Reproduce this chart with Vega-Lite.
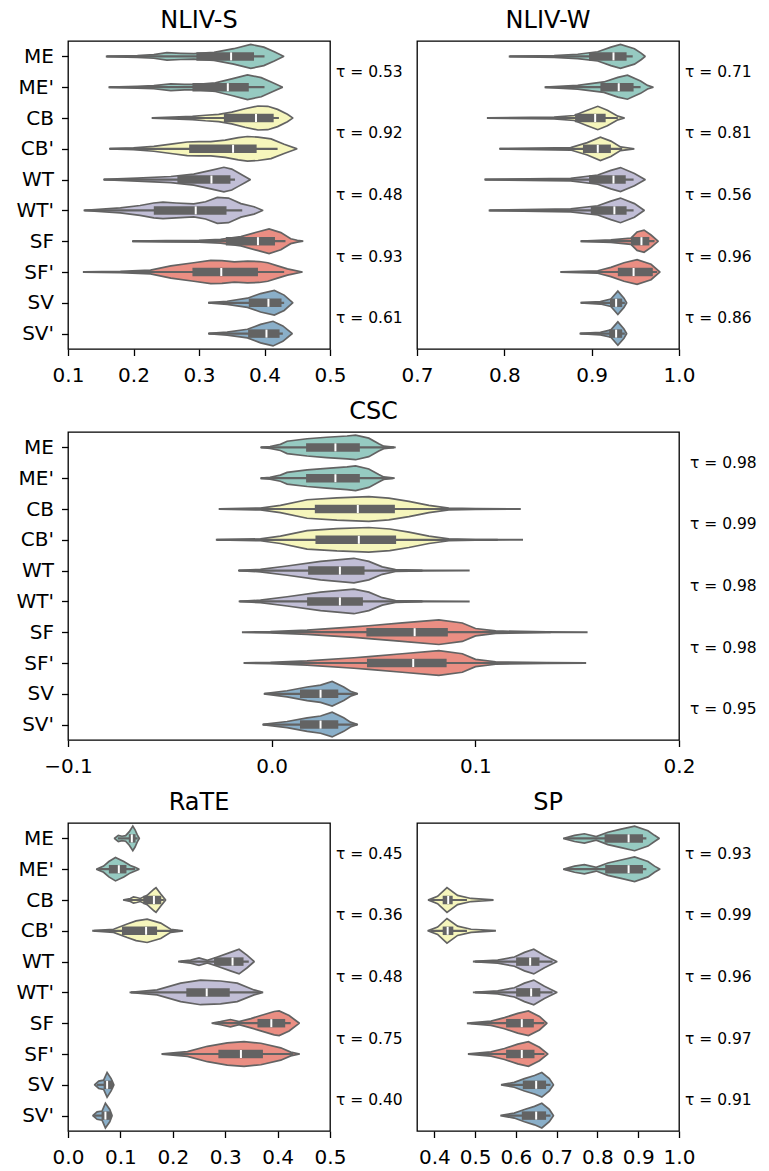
{
"$schema": "https://vega.github.io/schema/vega-lite/v6.json",
"background": "white",
"padding": {"left": 15, "top": 8, "right": 0, "bottom": 2},
"datasets": {
"v": [
{"p":"S","c":0,"x":0.159,"w":0.005},{"p":"S","c":0,"x":0.206,"w":0.03},{"p":"S","c":0,"x":0.231,"w":0.06},{"p":"S","c":0,"x":0.251,"w":0.12},{"p":"S","c":0,"x":0.272,"w":0.10},{"p":"S","c":0,"x":0.292,"w":0.09},{"p":"S","c":0,"x":0.323,"w":0.13},{"p":"S","c":0,"x":0.353,"w":0.25},{"p":"S","c":0,"x":0.379,"w":0.39},{"p":"S","c":0,"x":0.399,"w":0.30},{"p":"S","c":0,"x":0.415,"w":0.15},{"p":"S","c":0,"x":0.429,"w":0.005},
{"p":"S","c":1,"x":0.163,"w":0.005},{"p":"S","c":1,"x":0.206,"w":0.03},{"p":"S","c":1,"x":0.231,"w":0.05},{"p":"S","c":1,"x":0.257,"w":0.11},{"p":"S","c":1,"x":0.278,"w":0.09},{"p":"S","c":1,"x":0.298,"w":0.09},{"p":"S","c":1,"x":0.325,"w":0.14},{"p":"S","c":1,"x":0.350,"w":0.27},{"p":"S","c":1,"x":0.374,"w":0.40},{"p":"S","c":1,"x":0.395,"w":0.31},{"p":"S","c":1,"x":0.412,"w":0.15},{"p":"S","c":1,"x":0.427,"w":0.005},
{"p":"S","c":2,"x":0.229,"w":0.005},{"p":"S","c":2,"x":0.26,"w":0.03},{"p":"S","c":2,"x":0.29,"w":0.05},{"p":"S","c":2,"x":0.31,"w":0.09},{"p":"S","c":2,"x":0.33,"w":0.12},{"p":"S","c":2,"x":0.35,"w":0.19},{"p":"S","c":2,"x":0.37,"w":0.30},{"p":"S","c":2,"x":0.39,"w":0.39},{"p":"S","c":2,"x":0.405,"w":0.38},{"p":"S","c":2,"x":0.42,"w":0.28},{"p":"S","c":2,"x":0.435,"w":0.12},{"p":"S","c":2,"x":0.443,"w":0.005},
{"p":"S","c":3,"x":0.164,"w":0.005},{"p":"S","c":3,"x":0.20,"w":0.03},{"p":"S","c":3,"x":0.231,"w":0.08},{"p":"S","c":3,"x":0.26,"w":0.16},{"p":"S","c":3,"x":0.282,"w":0.22},{"p":"S","c":3,"x":0.30,"w":0.23},{"p":"S","c":3,"x":0.318,"w":0.23},{"p":"S","c":3,"x":0.34,"w":0.28},{"p":"S","c":3,"x":0.36,"w":0.36},{"p":"S","c":3,"x":0.374,"w":0.40},{"p":"S","c":3,"x":0.39,"w":0.38},{"p":"S","c":3,"x":0.41,"w":0.32},{"p":"S","c":3,"x":0.43,"w":0.15},{"p":"S","c":3,"x":0.449,"w":0.005},
{"p":"S","c":4,"x":0.155,"w":0.005},{"p":"S","c":4,"x":0.206,"w":0.05},{"p":"S","c":4,"x":0.257,"w":0.10},{"p":"S","c":4,"x":0.292,"w":0.18},{"p":"S","c":4,"x":0.318,"w":0.30},{"p":"S","c":4,"x":0.338,"w":0.40},{"p":"S","c":4,"x":0.35,"w":0.34},{"p":"S","c":4,"x":0.36,"w":0.22},{"p":"S","c":4,"x":0.37,"w":0.10},{"p":"S","c":4,"x":0.378,"w":0.005},
{"p":"S","c":5,"x":0.125,"w":0.005},{"p":"S","c":5,"x":0.18,"w":0.08},{"p":"S","c":5,"x":0.21,"w":0.16},{"p":"S","c":5,"x":0.231,"w":0.24},{"p":"S","c":5,"x":0.245,"w":0.27},{"p":"S","c":5,"x":0.265,"w":0.24},{"p":"S","c":5,"x":0.292,"w":0.21},{"p":"S","c":5,"x":0.31,"w":0.28},{"p":"S","c":5,"x":0.328,"w":0.42},{"p":"S","c":5,"x":0.345,"w":0.40},{"p":"S","c":5,"x":0.364,"w":0.22},{"p":"S","c":5,"x":0.384,"w":0.12},{"p":"S","c":5,"x":0.397,"w":0.005},
{"p":"S","c":6,"x":0.199,"w":0.005},{"p":"S","c":6,"x":0.25,"w":0.02},{"p":"S","c":6,"x":0.30,"w":0.03},{"p":"S","c":6,"x":0.333,"w":0.06},{"p":"S","c":6,"x":0.364,"w":0.15},{"p":"S","c":6,"x":0.389,"w":0.30},{"p":"S","c":6,"x":0.407,"w":0.40},{"p":"S","c":6,"x":0.425,"w":0.28},{"p":"S","c":6,"x":0.44,"w":0.08},{"p":"S","c":6,"x":0.45,"w":0.03},{"p":"S","c":6,"x":0.458,"w":0.005},
{"p":"S","c":7,"x":0.124,"w":0.005},{"p":"S","c":7,"x":0.18,"w":0.02},{"p":"S","c":7,"x":0.226,"w":0.06},{"p":"S","c":7,"x":0.257,"w":0.20},{"p":"S","c":7,"x":0.292,"w":0.30},{"p":"S","c":7,"x":0.318,"w":0.38},{"p":"S","c":7,"x":0.335,"w":0.37},{"p":"S","c":7,"x":0.354,"w":0.33},{"p":"S","c":7,"x":0.374,"w":0.35},{"p":"S","c":7,"x":0.392,"w":0.34},{"p":"S","c":7,"x":0.405,"w":0.30},{"p":"S","c":7,"x":0.42,"w":0.20},{"p":"S","c":7,"x":0.435,"w":0.10},{"p":"S","c":7,"x":0.457,"w":0.005},
{"p":"S","c":8,"x":0.315,"w":0.005},{"p":"S","c":8,"x":0.343,"w":0.05},{"p":"S","c":8,"x":0.374,"w":0.15},{"p":"S","c":8,"x":0.394,"w":0.30},{"p":"S","c":8,"x":0.415,"w":0.40},{"p":"S","c":8,"x":0.43,"w":0.25},{"p":"S","c":8,"x":0.443,"w":0.005},
{"p":"S","c":9,"x":0.315,"w":0.005},{"p":"S","c":9,"x":0.343,"w":0.05},{"p":"S","c":9,"x":0.374,"w":0.14},{"p":"S","c":9,"x":0.394,"w":0.30},{"p":"S","c":9,"x":0.413,"w":0.40},{"p":"S","c":9,"x":0.428,"w":0.25},{"p":"S","c":9,"x":0.442,"w":0.005},

{"p":"W","c":0,"x":0.806,"w":0.005},{"p":"W","c":0,"x":0.857,"w":0.03},{"p":"W","c":0,"x":0.884,"w":0.07},{"p":"W","c":0,"x":0.907,"w":0.15},{"p":"W","c":0,"x":0.922,"w":0.30},{"p":"W","c":0,"x":0.933,"w":0.39},{"p":"W","c":0,"x":0.949,"w":0.25},{"p":"W","c":0,"x":0.957,"w":0.10},{"p":"W","c":0,"x":0.961,"w":0.005},
{"p":"W","c":1,"x":0.847,"w":0.005},{"p":"W","c":1,"x":0.884,"w":0.06},{"p":"W","c":1,"x":0.914,"w":0.17},{"p":"W","c":1,"x":0.930,"w":0.32},{"p":"W","c":1,"x":0.941,"w":0.39},{"p":"W","c":1,"x":0.956,"w":0.20},{"p":"W","c":1,"x":0.964,"w":0.06},{"p":"W","c":1,"x":0.970,"w":0.005},
{"p":"W","c":2,"x":0.781,"w":0.005},{"p":"W","c":2,"x":0.857,"w":0.03},{"p":"W","c":2,"x":0.880,"w":0.08},{"p":"W","c":2,"x":0.895,"w":0.25},{"p":"W","c":2,"x":0.907,"w":0.38},{"p":"W","c":2,"x":0.918,"w":0.25},{"p":"W","c":2,"x":0.930,"w":0.06},{"p":"W","c":2,"x":0.937,"w":0.005},
{"p":"W","c":3,"x":0.795,"w":0.005},{"p":"W","c":3,"x":0.876,"w":0.04},{"p":"W","c":3,"x":0.895,"w":0.20},{"p":"W","c":3,"x":0.910,"w":0.38},{"p":"W","c":3,"x":0.922,"w":0.25},{"p":"W","c":3,"x":0.933,"w":0.06},{"p":"W","c":3,"x":0.948,"w":0.005},
{"p":"W","c":4,"x":0.778,"w":0.005},{"p":"W","c":4,"x":0.876,"w":0.04},{"p":"W","c":4,"x":0.907,"w":0.15},{"p":"W","c":4,"x":0.922,"w":0.30},{"p":"W","c":4,"x":0.933,"w":0.39},{"p":"W","c":4,"x":0.949,"w":0.20},{"p":"W","c":4,"x":0.961,"w":0.005},
{"p":"W","c":5,"x":0.783,"w":0.005},{"p":"W","c":5,"x":0.876,"w":0.05},{"p":"W","c":5,"x":0.907,"w":0.15},{"p":"W","c":5,"x":0.922,"w":0.30},{"p":"W","c":5,"x":0.933,"w":0.40},{"p":"W","c":5,"x":0.949,"w":0.22},{"p":"W","c":5,"x":0.960,"w":0.005},
{"p":"W","c":6,"x":0.888,"w":0.005},{"p":"W","c":6,"x":0.922,"w":0.04},{"p":"W","c":6,"x":0.945,"w":0.10},{"p":"W","c":6,"x":0.952,"w":0.30},{"p":"W","c":6,"x":0.960,"w":0.36},{"p":"W","c":6,"x":0.968,"w":0.20},{"p":"W","c":6,"x":0.976,"w":0.005},
{"p":"W","c":7,"x":0.865,"w":0.005},{"p":"W","c":7,"x":0.907,"w":0.04},{"p":"W","c":7,"x":0.922,"w":0.15},{"p":"W","c":7,"x":0.937,"w":0.30},{"p":"W","c":7,"x":0.952,"w":0.40},{"p":"W","c":7,"x":0.968,"w":0.25},{"p":"W","c":7,"x":0.978,"w":0.005},
{"p":"W","c":8,"x":0.888,"w":0.005},{"p":"W","c":8,"x":0.910,"w":0.04},{"p":"W","c":8,"x":0.922,"w":0.12},{"p":"W","c":8,"x":0.930,"w":0.38},{"p":"W","c":8,"x":0.937,"w":0.15},{"p":"W","c":8,"x":0.940,"w":0.005},
{"p":"W","c":9,"x":0.887,"w":0.005},{"p":"W","c":9,"x":0.910,"w":0.04},{"p":"W","c":9,"x":0.922,"w":0.12},{"p":"W","c":9,"x":0.930,"w":0.38},{"p":"W","c":9,"x":0.937,"w":0.15},{"p":"W","c":9,"x":0.940,"w":0.005},

{"p":"C","c":0,"x":-0.0052,"w":0.005},{"p":"C","c":0,"x":-0.0008,"w":0.03},{"p":"C","c":0,"x":0.0043,"w":0.10},{"p":"C","c":0,"x":0.0076,"w":0.20},{"p":"C","c":0,"x":0.0174,"w":0.28},{"p":"C","c":0,"x":0.027,"w":0.33},{"p":"C","c":0,"x":0.037,"w":0.37},{"p":"C","c":0,"x":0.0412,"w":0.40},{"p":"C","c":0,"x":0.0477,"w":0.30},{"p":"C","c":0,"x":0.0526,"w":0.12},{"p":"C","c":0,"x":0.055,"w":0.04},{"p":"C","c":0,"x":0.0605,"w":0.005},
{"p":"C","c":1,"x":-0.0052,"w":0.005},{"p":"C","c":1,"x":-0.0008,"w":0.03},{"p":"C","c":1,"x":0.0043,"w":0.10},{"p":"C","c":1,"x":0.0076,"w":0.19},{"p":"C","c":1,"x":0.0174,"w":0.27},{"p":"C","c":1,"x":0.027,"w":0.32},{"p":"C","c":1,"x":0.037,"w":0.37},{"p":"C","c":1,"x":0.0412,"w":0.40},{"p":"C","c":1,"x":0.0477,"w":0.30},{"p":"C","c":1,"x":0.0526,"w":0.12},{"p":"C","c":1,"x":0.055,"w":0.04},{"p":"C","c":1,"x":0.060,"w":0.005},
{"p":"C","c":2,"x":-0.0256,"w":0.005},{"p":"C","c":2,"x":-0.0055,"w":0.03},{"p":"C","c":2,"x":0.0043,"w":0.12},{"p":"C","c":2,"x":0.0174,"w":0.30},{"p":"C","c":2,"x":0.032,"w":0.36},{"p":"C","c":2,"x":0.0477,"w":0.40},{"p":"C","c":2,"x":0.0575,"w":0.35},{"p":"C","c":2,"x":0.0674,"w":0.25},{"p":"C","c":2,"x":0.0772,"w":0.12},{"p":"C","c":2,"x":0.087,"w":0.03},{"p":"C","c":2,"x":0.10,"w":0.01},{"p":"C","c":2,"x":0.1219,"w":0.005},
{"p":"C","c":3,"x":-0.027,"w":0.005},{"p":"C","c":3,"x":-0.0055,"w":0.03},{"p":"C","c":3,"x":0.0043,"w":0.12},{"p":"C","c":3,"x":0.0174,"w":0.30},{"p":"C","c":3,"x":0.032,"w":0.36},{"p":"C","c":3,"x":0.0477,"w":0.40},{"p":"C","c":3,"x":0.058,"w":0.35},{"p":"C","c":3,"x":0.0674,"w":0.25},{"p":"C","c":3,"x":0.0772,"w":0.12},{"p":"C","c":3,"x":0.087,"w":0.03},{"p":"C","c":3,"x":0.10,"w":0.01},{"p":"C","c":3,"x":0.123,"w":0.005},
{"p":"C","c":4,"x":-0.0161,"w":0.005},{"p":"C","c":4,"x":-0.0055,"w":0.04},{"p":"C","c":4,"x":0.0076,"w":0.15},{"p":"C","c":4,"x":0.024,"w":0.30},{"p":"C","c":4,"x":0.0404,"w":0.40},{"p":"C","c":4,"x":0.0477,"w":0.30},{"p":"C","c":4,"x":0.0543,"w":0.12},{"p":"C","c":4,"x":0.0608,"w":0.03},{"p":"C","c":4,"x":0.075,"w":0.01},{"p":"C","c":4,"x":0.0968,"w":0.005},
{"p":"C","c":5,"x":-0.0158,"w":0.005},{"p":"C","c":5,"x":-0.0055,"w":0.04},{"p":"C","c":5,"x":0.0076,"w":0.15},{"p":"C","c":5,"x":0.024,"w":0.30},{"p":"C","c":5,"x":0.0404,"w":0.40},{"p":"C","c":5,"x":0.0477,"w":0.30},{"p":"C","c":5,"x":0.0543,"w":0.12},{"p":"C","c":5,"x":0.0608,"w":0.03},{"p":"C","c":5,"x":0.075,"w":0.01},{"p":"C","c":5,"x":0.0968,"w":0.005},
{"p":"C","c":6,"x":-0.0142,"w":0.005},{"p":"C","c":6,"x":-0.0006,"w":0.02},{"p":"C","c":6,"x":0.0174,"w":0.07},{"p":"C","c":6,"x":0.0404,"w":0.17},{"p":"C","c":6,"x":0.0477,"w":0.21},{"p":"C","c":6,"x":0.0641,"w":0.30},{"p":"C","c":6,"x":0.0821,"w":0.40},{"p":"C","c":6,"x":0.0936,"w":0.30},{"p":"C","c":6,"x":0.1001,"w":0.12},{"p":"C","c":6,"x":0.110,"w":0.04},{"p":"C","c":6,"x":0.135,"w":0.01},{"p":"C","c":6,"x":0.1547,"w":0.005},
{"p":"C","c":7,"x":-0.0134,"w":0.005},{"p":"C","c":7,"x":-0.0006,"w":0.02},{"p":"C","c":7,"x":0.0174,"w":0.07},{"p":"C","c":7,"x":0.0404,"w":0.17},{"p":"C","c":7,"x":0.0477,"w":0.21},{"p":"C","c":7,"x":0.0641,"w":0.30},{"p":"C","c":7,"x":0.0821,"w":0.40},{"p":"C","c":7,"x":0.0936,"w":0.30},{"p":"C","c":7,"x":0.1001,"w":0.12},{"p":"C","c":7,"x":0.110,"w":0.04},{"p":"C","c":7,"x":0.135,"w":0.01},{"p":"C","c":7,"x":0.154,"w":0.005},
{"p":"C","c":8,"x":-0.0035,"w":0.005},{"p":"C","c":8,"x":0.0076,"w":0.10},{"p":"C","c":8,"x":0.0174,"w":0.22},{"p":"C","c":8,"x":0.024,"w":0.28},{"p":"C","c":8,"x":0.0297,"w":0.40},{"p":"C","c":8,"x":0.0354,"w":0.22},{"p":"C","c":8,"x":0.0387,"w":0.08},{"p":"C","c":8,"x":0.042,"w":0.005},
{"p":"C","c":9,"x":-0.0042,"w":0.005},{"p":"C","c":9,"x":0.0076,"w":0.10},{"p":"C","c":9,"x":0.0174,"w":0.22},{"p":"C","c":9,"x":0.024,"w":0.28},{"p":"C","c":9,"x":0.0297,"w":0.40},{"p":"C","c":9,"x":0.0354,"w":0.22},{"p":"C","c":9,"x":0.0387,"w":0.08},{"p":"C","c":9,"x":0.042,"w":0.005},

{"p":"R","c":0,"x":0.089,"w":0.005},{"p":"R","c":0,"x":0.096,"w":0.10},{"p":"R","c":0,"x":0.103,"w":0.07},{"p":"R","c":0,"x":0.110,"w":0.09},{"p":"R","c":0,"x":0.117,"w":0.22},{"p":"R","c":0,"x":0.1237,"w":0.40},{"p":"R","c":0,"x":0.128,"w":0.28},{"p":"R","c":0,"x":0.132,"w":0.12},{"p":"R","c":0,"x":0.136,"w":0.005},
{"p":"R","c":1,"x":0.055,"w":0.005},{"p":"R","c":1,"x":0.068,"w":0.10},{"p":"R","c":1,"x":0.078,"w":0.25},{"p":"R","c":1,"x":0.0906,"w":0.38},{"p":"R","c":1,"x":0.1065,"w":0.25},{"p":"R","c":1,"x":0.119,"w":0.12},{"p":"R","c":1,"x":0.128,"w":0.06},{"p":"R","c":1,"x":0.135,"w":0.005},
{"p":"R","c":2,"x":0.1065,"w":0.005},{"p":"R","c":2,"x":0.119,"w":0.05},{"p":"R","c":2,"x":0.125,"w":0.10},{"p":"R","c":2,"x":0.131,"w":0.08},{"p":"R","c":2,"x":0.138,"w":0.05},{"p":"R","c":2,"x":0.151,"w":0.15},{"p":"R","c":2,"x":0.164,"w":0.35},{"p":"R","c":2,"x":0.168,"w":0.40},{"p":"R","c":2,"x":0.1767,"w":0.20},{"p":"R","c":2,"x":0.186,"w":0.005},
{"p":"R","c":3,"x":0.0478,"w":0.005},{"p":"R","c":3,"x":0.087,"w":0.05},{"p":"R","c":3,"x":0.113,"w":0.22},{"p":"R","c":3,"x":0.130,"w":0.32},{"p":"R","c":3,"x":0.151,"w":0.38},{"p":"R","c":3,"x":0.177,"w":0.25},{"p":"R","c":3,"x":0.196,"w":0.05},{"p":"R","c":3,"x":0.218,"w":0.005},
{"p":"R","c":4,"x":0.2117,"w":0.005},{"p":"R","c":4,"x":0.234,"w":0.05},{"p":"R","c":4,"x":0.25,"w":0.12},{"p":"R","c":4,"x":0.266,"w":0.04},{"p":"R","c":4,"x":0.285,"w":0.15},{"p":"R","c":4,"x":0.31,"w":0.30},{"p":"R","c":4,"x":0.3265,"w":0.40},{"p":"R","c":4,"x":0.342,"w":0.20},{"p":"R","c":4,"x":0.355,"w":0.005},
{"p":"R","c":5,"x":0.119,"w":0.005},{"p":"R","c":5,"x":0.170,"w":0.08},{"p":"R","c":5,"x":0.215,"w":0.30},{"p":"R","c":5,"x":0.253,"w":0.40},{"p":"R","c":5,"x":0.291,"w":0.37},{"p":"R","c":5,"x":0.323,"w":0.30},{"p":"R","c":5,"x":0.355,"w":0.08},{"p":"R","c":5,"x":0.371,"w":0.005},
{"p":"R","c":6,"x":0.2755,"w":0.005},{"p":"R","c":6,"x":0.291,"w":0.05},{"p":"R","c":6,"x":0.31,"w":0.12},{"p":"R","c":6,"x":0.3265,"w":0.05},{"p":"R","c":6,"x":0.349,"w":0.15},{"p":"R","c":6,"x":0.368,"w":0.25},{"p":"R","c":6,"x":0.3935,"w":0.38},{"p":"R","c":6,"x":0.403,"w":0.40},{"p":"R","c":6,"x":0.422,"w":0.25},{"p":"R","c":6,"x":0.441,"w":0.005},
{"p":"R","c":7,"x":0.18,"w":0.005},{"p":"R","c":7,"x":0.228,"w":0.08},{"p":"R","c":7,"x":0.266,"w":0.25},{"p":"R","c":7,"x":0.304,"w":0.36},{"p":"R","c":7,"x":0.336,"w":0.40},{"p":"R","c":7,"x":0.368,"w":0.35},{"p":"R","c":7,"x":0.406,"w":0.20},{"p":"R","c":7,"x":0.425,"w":0.06},{"p":"R","c":7,"x":0.441,"w":0.005},
{"p":"R","c":8,"x":0.051,"w":0.005},{"p":"R","c":8,"x":0.0587,"w":0.12},{"p":"R","c":8,"x":0.068,"w":0.15},{"p":"R","c":8,"x":0.0746,"w":0.40},{"p":"R","c":8,"x":0.0823,"w":0.20},{"p":"R","c":8,"x":0.0874,"w":0.005},
{"p":"R","c":9,"x":0.0478,"w":0.005},{"p":"R","c":9,"x":0.0555,"w":0.12},{"p":"R","c":9,"x":0.065,"w":0.15},{"p":"R","c":9,"x":0.0714,"w":0.40},{"p":"R","c":9,"x":0.0797,"w":0.20},{"p":"R","c":9,"x":0.084,"w":0.005},

{"p":"P","c":0,"x":0.7176,"w":0.005},{"p":"P","c":0,"x":0.7438,"w":0.10},{"p":"P","c":0,"x":0.768,"w":0.15},{"p":"P","c":0,"x":0.797,"w":0.06},{"p":"P","c":0,"x":0.8256,"w":0.20},{"p":"P","c":0,"x":0.858,"w":0.30},{"p":"P","c":0,"x":0.8911,"w":0.40},{"p":"P","c":0,"x":0.924,"w":0.25},{"p":"P","c":0,"x":0.94,"w":0.10},{"p":"P","c":0,"x":0.951,"w":0.005},
{"p":"P","c":1,"x":0.7176,"w":0.005},{"p":"P","c":1,"x":0.7438,"w":0.10},{"p":"P","c":1,"x":0.768,"w":0.15},{"p":"P","c":1,"x":0.797,"w":0.06},{"p":"P","c":1,"x":0.8256,"w":0.20},{"p":"P","c":1,"x":0.858,"w":0.30},{"p":"P","c":1,"x":0.8911,"w":0.40},{"p":"P","c":1,"x":0.924,"w":0.25},{"p":"P","c":1,"x":0.94,"w":0.10},{"p":"P","c":1,"x":0.9525,"w":0.005},
{"p":"P","c":2,"x":0.386,"w":0.005},{"p":"P","c":2,"x":0.408,"w":0.12},{"p":"P","c":2,"x":0.431,"w":0.40},{"p":"P","c":2,"x":0.457,"w":0.15},{"p":"P","c":2,"x":0.49,"w":0.05},{"p":"P","c":2,"x":0.5432,"w":0.005},
{"p":"P","c":3,"x":0.385,"w":0.005},{"p":"P","c":3,"x":0.408,"w":0.12},{"p":"P","c":3,"x":0.431,"w":0.40},{"p":"P","c":3,"x":0.457,"w":0.15},{"p":"P","c":3,"x":0.49,"w":0.05},{"p":"P","c":3,"x":0.549,"w":0.005},
{"p":"P","c":4,"x":0.4966,"w":0.005},{"p":"P","c":4,"x":0.5555,"w":0.05},{"p":"P","c":4,"x":0.5964,"w":0.15},{"p":"P","c":4,"x":0.621,"w":0.30},{"p":"P","c":4,"x":0.6439,"w":0.40},{"p":"P","c":4,"x":0.670,"w":0.20},{"p":"P","c":4,"x":0.700,"w":0.005},
{"p":"P","c":5,"x":0.4966,"w":0.005},{"p":"P","c":5,"x":0.5555,"w":0.05},{"p":"P","c":5,"x":0.5964,"w":0.15},{"p":"P","c":5,"x":0.621,"w":0.30},{"p":"P","c":5,"x":0.6439,"w":0.40},{"p":"P","c":5,"x":0.670,"w":0.20},{"p":"P","c":5,"x":0.700,"w":0.005},
{"p":"P","c":6,"x":0.4819,"w":0.005},{"p":"P","c":6,"x":0.539,"w":0.07},{"p":"P","c":6,"x":0.572,"w":0.18},{"p":"P","c":6,"x":0.6046,"w":0.32},{"p":"P","c":6,"x":0.6308,"w":0.40},{"p":"P","c":6,"x":0.6578,"w":0.22},{"p":"P","c":6,"x":0.6758,"w":0.005},
{"p":"P","c":7,"x":0.4843,"w":0.005},{"p":"P","c":7,"x":0.539,"w":0.07},{"p":"P","c":7,"x":0.572,"w":0.18},{"p":"P","c":7,"x":0.6046,"w":0.32},{"p":"P","c":7,"x":0.6308,"w":0.40},{"p":"P","c":7,"x":0.6578,"w":0.22},{"p":"P","c":7,"x":0.678,"w":0.005},
{"p":"P","c":8,"x":0.5653,"w":0.005},{"p":"P","c":8,"x":0.596,"w":0.08},{"p":"P","c":8,"x":0.621,"w":0.20},{"p":"P","c":8,"x":0.6456,"w":0.30},{"p":"P","c":8,"x":0.6636,"w":0.40},{"p":"P","c":8,"x":0.682,"w":0.20},{"p":"P","c":8,"x":0.692,"w":0.005},
{"p":"P","c":9,"x":0.5637,"w":0.005},{"p":"P","c":9,"x":0.596,"w":0.08},{"p":"P","c":9,"x":0.621,"w":0.20},{"p":"P","c":9,"x":0.6456,"w":0.30},{"p":"P","c":9,"x":0.6636,"w":0.40},{"p":"P","c":9,"x":0.682,"w":0.20},{"p":"P","c":9,"x":0.692,"w":0.005}
],
"b": [
{"p":"S","c":0,"lo":0.159,"q1":0.296,"med":0.349,"q3":0.384,"hi":0.400},
{"p":"S","c":1,"lo":0.163,"q1":0.290,"med":0.344,"q3":0.376,"hi":0.400},
{"p":"S","c":2,"lo":0.229,"q1":0.338,"med":0.387,"q3":0.414,"hi":0.422},
{"p":"S","c":3,"lo":0.164,"q1":0.285,"med":0.352,"q3":0.388,"hi":0.420},
{"p":"S","c":4,"lo":0.155,"q1":0.267,"med":0.319,"q3":0.348,"hi":0.355},
{"p":"S","c":5,"lo":0.125,"q1":0.231,"med":0.295,"q3":0.342,"hi":0.366},
{"p":"S","c":6,"lo":0.199,"q1":0.341,"med":0.390,"q3":0.416,"hi":0.432},
{"p":"S","c":7,"lo":0.124,"q1":0.290,"med":0.334,"q3":0.390,"hi":0.430},
{"p":"S","c":8,"lo":0.315,"q1":0.376,"med":0.406,"q3":0.426,"hi":0.430},
{"p":"S","c":9,"lo":0.315,"q1":0.375,"med":0.403,"q3":0.423,"hi":0.428},
{"p":"W","c":0,"lo":0.806,"q1":0.897,"med":0.925,"q3":0.940,"hi":0.947},
{"p":"W","c":1,"lo":0.847,"q1":0.910,"med":0.931,"q3":0.948,"hi":0.956},
{"p":"W","c":2,"lo":0.781,"q1":0.881,"med":0.904,"q3":0.916,"hi":0.930},
{"p":"W","c":3,"lo":0.795,"q1":0.890,"med":0.907,"q3":0.922,"hi":0.935},
{"p":"W","c":4,"lo":0.778,"q1":0.897,"med":0.925,"q3":0.939,"hi":0.948},
{"p":"W","c":5,"lo":0.783,"q1":0.899,"med":0.926,"q3":0.940,"hi":0.948},
{"p":"W","c":6,"lo":0.888,"q1":0.945,"med":0.957,"q3":0.966,"hi":0.972},
{"p":"W","c":7,"lo":0.865,"q1":0.930,"med":0.948,"q3":0.970,"hi":0.975},
{"p":"W","c":8,"lo":0.888,"q1":0.921,"med":0.928,"q3":0.935,"hi":0.938},
{"p":"W","c":9,"lo":0.887,"q1":0.920,"med":0.928,"q3":0.935,"hi":0.938},
{"p":"C","c":0,"lo":-0.0052,"q1":0.0169,"med":0.0313,"q3":0.0433,"hi":0.0600},
{"p":"C","c":1,"lo":-0.0052,"q1":0.0169,"med":0.0313,"q3":0.0433,"hi":0.0595},
{"p":"C","c":2,"lo":-0.0256,"q1":0.0212,"med":0.0423,"q3":0.0605,"hi":0.110},
{"p":"C","c":3,"lo":-0.027,"q1":0.0215,"med":0.0428,"q3":0.0611,"hi":0.111},
{"p":"C","c":4,"lo":-0.0161,"q1":0.0179,"med":0.0335,"q3":0.0456,"hi":0.074},
{"p":"C","c":5,"lo":-0.0158,"q1":0.0174,"med":0.0335,"q3":0.0448,"hi":0.074},
{"p":"C","c":6,"lo":0.0,"q1":0.0465,"med":0.0702,"q3":0.0865,"hi":0.137},
{"p":"C","c":7,"lo":0.0,"q1":0.0468,"med":0.0695,"q3":0.0859,"hi":0.136},
{"p":"C","c":8,"lo":-0.0035,"q1":0.0139,"med":0.024,"q3":0.0327,"hi":0.042},
{"p":"C","c":9,"lo":-0.0042,"q1":0.0139,"med":0.024,"q3":0.0327,"hi":0.042},
{"p":"R","c":0,"lo":0.095,"q1":0.116,"med":0.1218,"q3":0.129,"hi":0.133},
{"p":"R","c":1,"lo":0.058,"q1":0.078,"med":0.097,"q3":0.1116,"hi":0.128},
{"p":"R","c":2,"lo":0.110,"q1":0.1435,"med":0.164,"q3":0.178,"hi":0.183},
{"p":"R","c":3,"lo":0.050,"q1":0.103,"med":0.149,"q3":0.170,"hi":0.210},
{"p":"R","c":4,"lo":0.215,"q1":0.2787,"med":0.314,"q3":0.335,"hi":0.345},
{"p":"R","c":5,"lo":0.120,"q1":0.2258,"med":0.2647,"q3":0.3087,"hi":0.368},
{"p":"R","c":6,"lo":0.280,"q1":0.3616,"med":0.388,"q3":0.4145,"hi":0.425},
{"p":"R","c":7,"lo":0.180,"q1":0.287,"med":0.330,"q3":0.372,"hi":0.430},
{"p":"R","c":8,"lo":0.055,"q1":0.068,"med":0.0746,"q3":0.086,"hi":0.086},
{"p":"R","c":9,"lo":0.050,"q1":0.064,"med":0.0714,"q3":0.082,"hi":0.082},
{"p":"P","c":0,"lo":0.720,"q1":0.8175,"med":0.8764,"q3":0.9116,"hi":0.920},
{"p":"P","c":1,"lo":0.720,"q1":0.819,"med":0.8764,"q3":0.9116,"hi":0.920},
{"p":"P","c":2,"lo":0.390,"q1":0.4205,"med":0.434,"q3":0.445,"hi":0.480},
{"p":"P","c":3,"lo":0.390,"q1":0.4205,"med":0.4327,"q3":0.4466,"hi":0.480},
{"p":"P","c":4,"lo":0.500,"q1":0.6005,"med":0.635,"q3":0.6578,"hi":0.690},
{"p":"P","c":5,"lo":0.500,"q1":0.6005,"med":0.6374,"q3":0.660,"hi":0.690},
{"p":"P","c":6,"lo":0.490,"q1":0.576,"med":0.6145,"q3":0.644,"hi":0.670},
{"p":"P","c":7,"lo":0.490,"q1":0.576,"med":0.6145,"q3":0.6456,"hi":0.670},
{"p":"P","c":8,"lo":0.570,"q1":0.617,"med":0.6497,"q3":0.674,"hi":0.685},
{"p":"P","c":9,"lo":0.570,"q1":0.6145,"med":0.6497,"q3":0.674,"hi":0.685}
],
"t": [
{"p":"S","c":0.5,"t":"τ = 0.53"},{"p":"S","c":2.5,"t":"τ = 0.92"},{"p":"S","c":4.5,"t":"τ = 0.48"},{"p":"S","c":6.5,"t":"τ = 0.93"},{"p":"S","c":8.5,"t":"τ = 0.61"},
{"p":"W","c":0.5,"t":"τ = 0.71"},{"p":"W","c":2.5,"t":"τ = 0.81"},{"p":"W","c":4.5,"t":"τ = 0.56"},{"p":"W","c":6.5,"t":"τ = 0.96"},{"p":"W","c":8.5,"t":"τ = 0.86"},
{"p":"C","c":0.5,"t":"τ = 0.98"},{"p":"C","c":2.5,"t":"τ = 0.99"},{"p":"C","c":4.5,"t":"τ = 0.98"},{"p":"C","c":6.5,"t":"τ = 0.98"},{"p":"C","c":8.5,"t":"τ = 0.95"},
{"p":"R","c":0.5,"t":"τ = 0.45"},{"p":"R","c":2.5,"t":"τ = 0.36"},{"p":"R","c":4.5,"t":"τ = 0.48"},{"p":"R","c":6.5,"t":"τ = 0.75"},{"p":"R","c":8.5,"t":"τ = 0.40"},
{"p":"P","c":0.5,"t":"τ = 0.93"},{"p":"P","c":2.5,"t":"τ = 0.99"},{"p":"P","c":4.5,"t":"τ = 0.96"},{"p":"P","c":6.5,"t":"τ = 0.97"},{"p":"P","c":8.5,"t":"τ = 0.91"}
]
},
"bounds": "full",
"spacing": 12,
"vconcat": [
{"bounds": "flush", "spacing": 87, "hconcat": [
{"title": "NLIV-S", "width": 262, "height": 308, "layer": [
 {"data": {"name": "v"}, "transform": [{"filter": "datum.p == 'S'"}, {"calculate": "datum.c - datum.w", "as": "ya"}, {"calculate": "datum.c + datum.w", "as": "yb"}],
  "mark": {"type": "area", "orient": "vertical", "stroke": "#636363", "strokeWidth": 1.7, "fillOpacity": 1},
  "encoding": {
   "x": {"field": "x", "type": "quantitative", "title": null, "scale": {"domain": [0.1, 0.5], "nice": false, "zero": false}, "axis": {"values": [0.1, 0.2, 0.3, 0.4, 0.5], "format": ".1f"}},
   "y": {"field": "ya", "type": "quantitative", "title": null, "stack": null, "scale": {"domain": [-0.5, 9.5], "reverse": true, "nice": false, "zero": false}, "axis": {"values": [0,1,2,3,4,5,6,7,8,9], "labelExpr": "[\"ME\",\"ME'\",\"CB\",\"CB'\",\"WT\",\"WT'\",\"SF\",\"SF'\",\"SV\",\"SV'\"][datum.value]"}},
   "y2": {"field": "yb"},
   "color": {"field": "c", "type": "nominal", "legend": null, "scale": {"domain": [0,1,2,3,4,5,6,7,8,9], "range": ["#96cac1","#96cac1","#f6f6bc","#f6f6bc","#c1bed6","#c1bed6","#ea8e83","#ea8e83","#8aafc9","#8aafc9"]}}
  }},
 {"data": {"name": "b"}, "transform": [{"filter": "datum.p == 'S'"}], "mark": {"type": "rule", "color": "#636363", "strokeWidth": 2.2},
  "encoding": {"x": {"field": "lo", "type": "quantitative", "title": null, "scale": {"domain": [0.1, 0.5], "nice": false, "zero": false}, "axis": {"values": [0.1, 0.2, 0.3, 0.4, 0.5], "format": ".1f"}}, "x2": {"field": "hi"}, "y": {"field": "c", "type": "quantitative", "title": null, "scale": {"domain": [-0.5, 9.5], "reverse": true, "nice": false, "zero": false}, "axis": {"values": [0,1,2,3,4,5,6,7,8,9], "labelExpr": "[\"ME\",\"ME'\",\"CB\",\"CB'\",\"WT\",\"WT'\",\"SF\",\"SF'\",\"SV\",\"SV'\"][datum.value]"}}}},
 {"data": {"name": "b"}, "transform": [{"filter": "datum.p == 'S'"}], "mark": {"type": "rule", "color": "#636363", "strokeWidth": 8.5, "strokeCap": "butt"},
  "encoding": {"x": {"field": "q1", "type": "quantitative", "title": null, "scale": {"domain": [0.1, 0.5], "nice": false, "zero": false}, "axis": {"values": [0.1, 0.2, 0.3, 0.4, 0.5], "format": ".1f"}}, "x2": {"field": "q3"}, "y": {"field": "c", "type": "quantitative", "title": null, "scale": {"domain": [-0.5, 9.5], "reverse": true, "nice": false, "zero": false}, "axis": {"values": [0,1,2,3,4,5,6,7,8,9], "labelExpr": "[\"ME\",\"ME'\",\"CB\",\"CB'\",\"WT\",\"WT'\",\"SF\",\"SF'\",\"SV\",\"SV'\"][datum.value]"}}}},
 {"data": {"name": "b"}, "transform": [{"filter": "datum.p == 'S'"}], "mark": {"type": "point", "shape": "M0,-1L0,1", "filled": false, "stroke": "white", "strokeWidth": 2, "size": 64, "opacity": 1},
  "encoding": {"x": {"field": "med", "type": "quantitative", "title": null, "scale": {"domain": [0.1, 0.5], "nice": false, "zero": false}, "axis": {"values": [0.1, 0.2, 0.3, 0.4, 0.5], "format": ".1f"}}, "y": {"field": "c", "type": "quantitative", "title": null, "scale": {"domain": [-0.5, 9.5], "reverse": true, "nice": false, "zero": false}, "axis": {"values": [0,1,2,3,4,5,6,7,8,9], "labelExpr": "[\"ME\",\"ME'\",\"CB\",\"CB'\",\"WT\",\"WT'\",\"SF\",\"SF'\",\"SV\",\"SV'\"][datum.value]"}}}},
 {"data": {"name": "t"}, "transform": [{"filter": "datum.p == 'S'"}], "mark": {"type": "text", "align": "left", "baseline": "middle", "dx": 6, "fontSize": 15.5, "color": "black"},
  "encoding": {"x": {"datum": 0.5, "type": "quantitative", "axis": {"values": [0.1, 0.2, 0.3, 0.4, 0.5], "format": ".1f"}}, "y": {"field": "c", "type": "quantitative", "title": null, "scale": {"domain": [-0.5, 9.5], "reverse": true, "nice": false, "zero": false}, "axis": {"values": [0,1,2,3,4,5,6,7,8,9], "labelExpr": "[\"ME\",\"ME'\",\"CB\",\"CB'\",\"WT\",\"WT'\",\"SF\",\"SF'\",\"SV\",\"SV'\"][datum.value]"}}, "text": {"field": "t"}}}
]},
{"title": "NLIV-W", "width": 262, "height": 308, "layer": [
 {"data": {"name": "v"}, "transform": [{"filter": "datum.p == 'W'"}, {"calculate": "datum.c - datum.w", "as": "ya"}, {"calculate": "datum.c + datum.w", "as": "yb"}],
  "mark": {"type": "area", "orient": "vertical", "stroke": "#636363", "strokeWidth": 1.7, "fillOpacity": 1},
  "encoding": {
   "x": {"field": "x", "type": "quantitative", "title": null, "scale": {"domain": [0.7, 1.0], "nice": false, "zero": false}, "axis": {"values": [0.7, 0.8, 0.9, 1.0], "format": ".1f"}},
   "y": {"field": "ya", "type": "quantitative", "title": null, "stack": null, "scale": {"domain": [-0.5, 9.5], "reverse": true, "nice": false, "zero": false}, "axis": null},
   "y2": {"field": "yb"},
   "color": {"field": "c", "type": "nominal", "legend": null, "scale": {"domain": [0,1,2,3,4,5,6,7,8,9], "range": ["#96cac1","#96cac1","#f6f6bc","#f6f6bc","#c1bed6","#c1bed6","#ea8e83","#ea8e83","#8aafc9","#8aafc9"]}}
  }},
 {"data": {"name": "b"}, "transform": [{"filter": "datum.p == 'W'"}], "mark": {"type": "rule", "color": "#636363", "strokeWidth": 2.2},
  "encoding": {"x": {"field": "lo", "type": "quantitative", "title": null, "scale": {"domain": [0.7, 1.0], "nice": false, "zero": false}, "axis": {"values": [0.7, 0.8, 0.9, 1.0], "format": ".1f"}}, "x2": {"field": "hi"}, "y": {"field": "c", "type": "quantitative", "title": null, "axis": null, "scale": {"domain": [-0.5, 9.5], "reverse": true, "nice": false, "zero": false}}}},
 {"data": {"name": "b"}, "transform": [{"filter": "datum.p == 'W'"}], "mark": {"type": "rule", "color": "#636363", "strokeWidth": 8.5, "strokeCap": "butt"},
  "encoding": {"x": {"field": "q1", "type": "quantitative", "title": null, "scale": {"domain": [0.7, 1.0], "nice": false, "zero": false}, "axis": {"values": [0.7, 0.8, 0.9, 1.0], "format": ".1f"}}, "x2": {"field": "q3"}, "y": {"field": "c", "type": "quantitative", "title": null, "axis": null, "scale": {"domain": [-0.5, 9.5], "reverse": true, "nice": false, "zero": false}}}},
 {"data": {"name": "b"}, "transform": [{"filter": "datum.p == 'W'"}], "mark": {"type": "point", "shape": "M0,-1L0,1", "filled": false, "stroke": "white", "strokeWidth": 2, "size": 64, "opacity": 1},
  "encoding": {"x": {"field": "med", "type": "quantitative", "title": null, "scale": {"domain": [0.7, 1.0], "nice": false, "zero": false}, "axis": {"values": [0.7, 0.8, 0.9, 1.0], "format": ".1f"}}, "y": {"field": "c", "type": "quantitative", "title": null, "axis": null, "scale": {"domain": [-0.5, 9.5], "reverse": true, "nice": false, "zero": false}}}},
 {"data": {"name": "t"}, "transform": [{"filter": "datum.p == 'W'"}], "mark": {"type": "text", "align": "left", "baseline": "middle", "dx": 6, "fontSize": 15.5, "color": "black"},
  "encoding": {"x": {"datum": 1.0, "type": "quantitative", "axis": {"values": [0.7, 0.8, 0.9, 1.0], "format": ".1f"}}, "y": {"field": "c", "type": "quantitative", "title": null, "axis": null, "scale": {"domain": [-0.5, 9.5], "reverse": true, "nice": false, "zero": false}}, "text": {"field": "t"}}}
]}
]},
{"title": "CSC", "width": 611, "height": 308, "layer": [
 {"data": {"name": "v"}, "transform": [{"filter": "datum.p == 'C'"}, {"calculate": "datum.c - datum.w", "as": "ya"}, {"calculate": "datum.c + datum.w", "as": "yb"}],
  "mark": {"type": "area", "orient": "vertical", "stroke": "#636363", "strokeWidth": 1.7, "fillOpacity": 1},
  "encoding": {
   "x": {"field": "x", "type": "quantitative", "title": null, "scale": {"domain": [-0.1, 0.2], "nice": false, "zero": false}, "axis": {"values": [-0.1, 0, 0.1, 0.2], "format": ".1f"}},
   "y": {"field": "ya", "type": "quantitative", "title": null, "stack": null, "scale": {"domain": [-0.5, 9.5], "reverse": true, "nice": false, "zero": false}, "axis": {"values": [0,1,2,3,4,5,6,7,8,9], "labelExpr": "[\"ME\",\"ME'\",\"CB\",\"CB'\",\"WT\",\"WT'\",\"SF\",\"SF'\",\"SV\",\"SV'\"][datum.value]"}},
   "y2": {"field": "yb"},
   "color": {"field": "c", "type": "nominal", "legend": null, "scale": {"domain": [0,1,2,3,4,5,6,7,8,9], "range": ["#96cac1","#96cac1","#f6f6bc","#f6f6bc","#c1bed6","#c1bed6","#ea8e83","#ea8e83","#8aafc9","#8aafc9"]}}
  }},
 {"data": {"name": "b"}, "transform": [{"filter": "datum.p == 'C'"}], "mark": {"type": "rule", "color": "#636363", "strokeWidth": 2.2},
  "encoding": {"x": {"field": "lo", "type": "quantitative", "title": null, "scale": {"domain": [-0.1, 0.2], "nice": false, "zero": false}, "axis": {"values": [-0.1, 0, 0.1, 0.2], "format": ".1f"}}, "x2": {"field": "hi"}, "y": {"field": "c", "type": "quantitative", "title": null, "scale": {"domain": [-0.5, 9.5], "reverse": true, "nice": false, "zero": false}, "axis": {"values": [0,1,2,3,4,5,6,7,8,9], "labelExpr": "[\"ME\",\"ME'\",\"CB\",\"CB'\",\"WT\",\"WT'\",\"SF\",\"SF'\",\"SV\",\"SV'\"][datum.value]"}}}},
 {"data": {"name": "b"}, "transform": [{"filter": "datum.p == 'C'"}], "mark": {"type": "rule", "color": "#636363", "strokeWidth": 8.5, "strokeCap": "butt"},
  "encoding": {"x": {"field": "q1", "type": "quantitative", "title": null, "scale": {"domain": [-0.1, 0.2], "nice": false, "zero": false}, "axis": {"values": [-0.1, 0, 0.1, 0.2], "format": ".1f"}}, "x2": {"field": "q3"}, "y": {"field": "c", "type": "quantitative", "title": null, "scale": {"domain": [-0.5, 9.5], "reverse": true, "nice": false, "zero": false}, "axis": {"values": [0,1,2,3,4,5,6,7,8,9], "labelExpr": "[\"ME\",\"ME'\",\"CB\",\"CB'\",\"WT\",\"WT'\",\"SF\",\"SF'\",\"SV\",\"SV'\"][datum.value]"}}}},
 {"data": {"name": "b"}, "transform": [{"filter": "datum.p == 'C'"}], "mark": {"type": "point", "shape": "M0,-1L0,1", "filled": false, "stroke": "white", "strokeWidth": 2, "size": 64, "opacity": 1},
  "encoding": {"x": {"field": "med", "type": "quantitative", "title": null, "scale": {"domain": [-0.1, 0.2], "nice": false, "zero": false}, "axis": {"values": [-0.1, 0, 0.1, 0.2], "format": ".1f"}}, "y": {"field": "c", "type": "quantitative", "title": null, "scale": {"domain": [-0.5, 9.5], "reverse": true, "nice": false, "zero": false}, "axis": {"values": [0,1,2,3,4,5,6,7,8,9], "labelExpr": "[\"ME\",\"ME'\",\"CB\",\"CB'\",\"WT\",\"WT'\",\"SF\",\"SF'\",\"SV\",\"SV'\"][datum.value]"}}}},
 {"data": {"name": "t"}, "transform": [{"filter": "datum.p == 'C'"}], "mark": {"type": "text", "align": "left", "baseline": "middle", "dx": 11, "fontSize": 15.5, "color": "black"},
  "encoding": {"x": {"datum": 0.2, "type": "quantitative", "axis": {"values": [-0.1, 0, 0.1, 0.2], "format": ".1f"}}, "y": {"field": "c", "type": "quantitative", "title": null, "scale": {"domain": [-0.5, 9.5], "reverse": true, "nice": false, "zero": false}, "axis": {"values": [0,1,2,3,4,5,6,7,8,9], "labelExpr": "[\"ME\",\"ME'\",\"CB\",\"CB'\",\"WT\",\"WT'\",\"SF\",\"SF'\",\"SV\",\"SV'\"][datum.value]"}}, "text": {"field": "t"}}}
]},
{"bounds": "flush", "spacing": 87, "hconcat": [
{"title": "RaTE", "width": 262, "height": 308, "layer": [
 {"data": {"name": "v"}, "transform": [{"filter": "datum.p == 'R'"}, {"calculate": "datum.c - datum.w", "as": "ya"}, {"calculate": "datum.c + datum.w", "as": "yb"}],
  "mark": {"type": "area", "orient": "vertical", "stroke": "#636363", "strokeWidth": 1.7, "fillOpacity": 1},
  "encoding": {
   "x": {"field": "x", "type": "quantitative", "title": null, "scale": {"domain": [0, 0.5], "nice": false, "zero": false}, "axis": {"values": [0, 0.1, 0.2, 0.3, 0.4, 0.5], "format": ".1f"}},
   "y": {"field": "ya", "type": "quantitative", "title": null, "stack": null, "scale": {"domain": [-0.5, 9.5], "reverse": true, "nice": false, "zero": false}, "axis": {"values": [0,1,2,3,4,5,6,7,8,9], "labelExpr": "[\"ME\",\"ME'\",\"CB\",\"CB'\",\"WT\",\"WT'\",\"SF\",\"SF'\",\"SV\",\"SV'\"][datum.value]"}},
   "y2": {"field": "yb"},
   "color": {"field": "c", "type": "nominal", "legend": null, "scale": {"domain": [0,1,2,3,4,5,6,7,8,9], "range": ["#96cac1","#96cac1","#f6f6bc","#f6f6bc","#c1bed6","#c1bed6","#ea8e83","#ea8e83","#8aafc9","#8aafc9"]}}
  }},
 {"data": {"name": "b"}, "transform": [{"filter": "datum.p == 'R'"}], "mark": {"type": "rule", "color": "#636363", "strokeWidth": 2.2},
  "encoding": {"x": {"field": "lo", "type": "quantitative", "title": null, "scale": {"domain": [0, 0.5], "nice": false, "zero": false}, "axis": {"values": [0, 0.1, 0.2, 0.3, 0.4, 0.5], "format": ".1f"}}, "x2": {"field": "hi"}, "y": {"field": "c", "type": "quantitative", "title": null, "scale": {"domain": [-0.5, 9.5], "reverse": true, "nice": false, "zero": false}, "axis": {"values": [0,1,2,3,4,5,6,7,8,9], "labelExpr": "[\"ME\",\"ME'\",\"CB\",\"CB'\",\"WT\",\"WT'\",\"SF\",\"SF'\",\"SV\",\"SV'\"][datum.value]"}}}},
 {"data": {"name": "b"}, "transform": [{"filter": "datum.p == 'R'"}], "mark": {"type": "rule", "color": "#636363", "strokeWidth": 8.5, "strokeCap": "butt"},
  "encoding": {"x": {"field": "q1", "type": "quantitative", "title": null, "scale": {"domain": [0, 0.5], "nice": false, "zero": false}, "axis": {"values": [0, 0.1, 0.2, 0.3, 0.4, 0.5], "format": ".1f"}}, "x2": {"field": "q3"}, "y": {"field": "c", "type": "quantitative", "title": null, "scale": {"domain": [-0.5, 9.5], "reverse": true, "nice": false, "zero": false}, "axis": {"values": [0,1,2,3,4,5,6,7,8,9], "labelExpr": "[\"ME\",\"ME'\",\"CB\",\"CB'\",\"WT\",\"WT'\",\"SF\",\"SF'\",\"SV\",\"SV'\"][datum.value]"}}}},
 {"data": {"name": "b"}, "transform": [{"filter": "datum.p == 'R'"}], "mark": {"type": "point", "shape": "M0,-1L0,1", "filled": false, "stroke": "white", "strokeWidth": 2, "size": 64, "opacity": 1},
  "encoding": {"x": {"field": "med", "type": "quantitative", "title": null, "scale": {"domain": [0, 0.5], "nice": false, "zero": false}, "axis": {"values": [0, 0.1, 0.2, 0.3, 0.4, 0.5], "format": ".1f"}}, "y": {"field": "c", "type": "quantitative", "title": null, "scale": {"domain": [-0.5, 9.5], "reverse": true, "nice": false, "zero": false}, "axis": {"values": [0,1,2,3,4,5,6,7,8,9], "labelExpr": "[\"ME\",\"ME'\",\"CB\",\"CB'\",\"WT\",\"WT'\",\"SF\",\"SF'\",\"SV\",\"SV'\"][datum.value]"}}}},
 {"data": {"name": "t"}, "transform": [{"filter": "datum.p == 'R'"}], "mark": {"type": "text", "align": "left", "baseline": "middle", "dx": 6, "fontSize": 15.5, "color": "black"},
  "encoding": {"x": {"datum": 0.5, "type": "quantitative", "axis": {"values": [0, 0.1, 0.2, 0.3, 0.4, 0.5], "format": ".1f"}}, "y": {"field": "c", "type": "quantitative", "title": null, "scale": {"domain": [-0.5, 9.5], "reverse": true, "nice": false, "zero": false}, "axis": {"values": [0,1,2,3,4,5,6,7,8,9], "labelExpr": "[\"ME\",\"ME'\",\"CB\",\"CB'\",\"WT\",\"WT'\",\"SF\",\"SF'\",\"SV\",\"SV'\"][datum.value]"}}, "text": {"field": "t"}}}
]},
{"title": "SP", "width": 262, "height": 308, "layer": [
 {"data": {"name": "v"}, "transform": [{"filter": "datum.p == 'P'"}, {"calculate": "datum.c - datum.w", "as": "ya"}, {"calculate": "datum.c + datum.w", "as": "yb"}],
  "mark": {"type": "area", "orient": "vertical", "stroke": "#636363", "strokeWidth": 1.7, "fillOpacity": 1},
  "encoding": {
   "x": {"field": "x", "type": "quantitative", "title": null, "scale": {"domain": [0.3575, 1.0], "nice": false, "zero": false}, "axis": {"values": [0.4, 0.5, 0.6, 0.7, 0.8, 0.9, 1.0], "format": ".1f"}},
   "y": {"field": "ya", "type": "quantitative", "title": null, "stack": null, "scale": {"domain": [-0.5, 9.5], "reverse": true, "nice": false, "zero": false}, "axis": null},
   "y2": {"field": "yb"},
   "color": {"field": "c", "type": "nominal", "legend": null, "scale": {"domain": [0,1,2,3,4,5,6,7,8,9], "range": ["#96cac1","#96cac1","#f6f6bc","#f6f6bc","#c1bed6","#c1bed6","#ea8e83","#ea8e83","#8aafc9","#8aafc9"]}}
  }},
 {"data": {"name": "b"}, "transform": [{"filter": "datum.p == 'P'"}], "mark": {"type": "rule", "color": "#636363", "strokeWidth": 2.2},
  "encoding": {"x": {"field": "lo", "type": "quantitative", "title": null, "scale": {"domain": [0.3575, 1.0], "nice": false, "zero": false}, "axis": {"values": [0.4, 0.5, 0.6, 0.7, 0.8, 0.9, 1.0], "format": ".1f"}}, "x2": {"field": "hi"}, "y": {"field": "c", "type": "quantitative", "title": null, "axis": null, "scale": {"domain": [-0.5, 9.5], "reverse": true, "nice": false, "zero": false}}}},
 {"data": {"name": "b"}, "transform": [{"filter": "datum.p == 'P'"}], "mark": {"type": "rule", "color": "#636363", "strokeWidth": 8.5, "strokeCap": "butt"},
  "encoding": {"x": {"field": "q1", "type": "quantitative", "title": null, "scale": {"domain": [0.3575, 1.0], "nice": false, "zero": false}, "axis": {"values": [0.4, 0.5, 0.6, 0.7, 0.8, 0.9, 1.0], "format": ".1f"}}, "x2": {"field": "q3"}, "y": {"field": "c", "type": "quantitative", "title": null, "axis": null, "scale": {"domain": [-0.5, 9.5], "reverse": true, "nice": false, "zero": false}}}},
 {"data": {"name": "b"}, "transform": [{"filter": "datum.p == 'P'"}], "mark": {"type": "point", "shape": "M0,-1L0,1", "filled": false, "stroke": "white", "strokeWidth": 2, "size": 64, "opacity": 1},
  "encoding": {"x": {"field": "med", "type": "quantitative", "title": null, "scale": {"domain": [0.3575, 1.0], "nice": false, "zero": false}, "axis": {"values": [0.4, 0.5, 0.6, 0.7, 0.8, 0.9, 1.0], "format": ".1f"}}, "y": {"field": "c", "type": "quantitative", "title": null, "axis": null, "scale": {"domain": [-0.5, 9.5], "reverse": true, "nice": false, "zero": false}}}},
 {"data": {"name": "t"}, "transform": [{"filter": "datum.p == 'P'"}], "mark": {"type": "text", "align": "left", "baseline": "middle", "dx": 6, "fontSize": 15.5, "color": "black"},
  "encoding": {"x": {"datum": 1.0, "type": "quantitative", "axis": {"values": [0.4, 0.5, 0.6, 0.7, 0.8, 0.9, 1.0], "format": ".1f"}}, "y": {"field": "c", "type": "quantitative", "title": null, "axis": null, "scale": {"domain": [-0.5, 9.5], "reverse": true, "nice": false, "zero": false}}, "text": {"field": "t"}}}
]}
]}
],
"config": {
 "font": "DejaVu Sans",
 "view": {"stroke": "black", "strokeWidth": 1.3},
 "axis": {"grid": false, "domain": false, "labelFont": "DejaVu Sans", "labelFontSize": 20, "labelColor": "black", "tickColor": "black", "tickWidth": 1.3, "tickSize": 6.5, "labelOverlap": false, "labelFlush": false},
 "axisX": {"labelPadding": 10},
 "axisY": {"labelPadding": 8},
 "title": {"fontSize": 24, "fontWeight": "normal", "color": "black", "font": "DejaVu Sans", "offset": 8},
 "text": {"font": "DejaVu Sans"}
}
}
